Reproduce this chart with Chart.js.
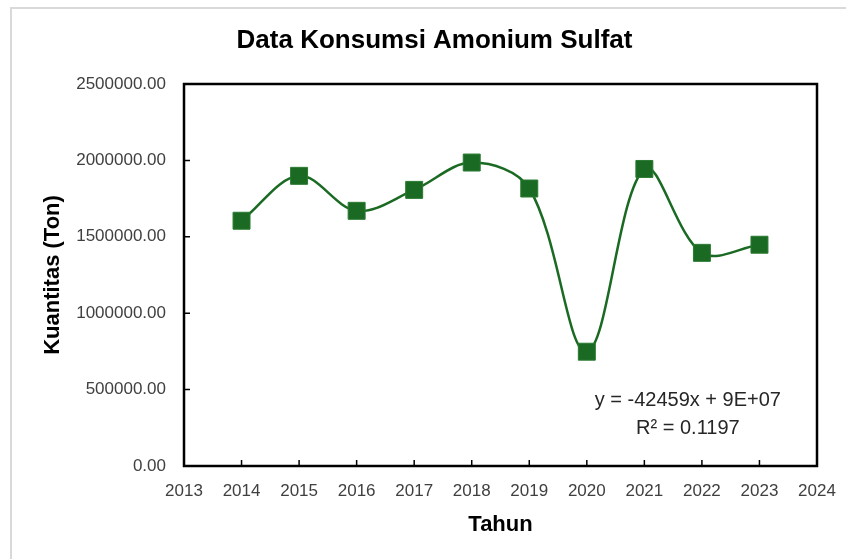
<!DOCTYPE html>
<html>
<head>
<meta charset="utf-8">
<script src="https://cdn.jsdelivr.net/npm/chart.js@4/dist/chart.umd.min.js"></script>
<style>
html, body { margin: 0; padding: 0; background: #ffffff; }
#wrap { width: 846px; height: 559px; position: relative; }
canvas { display: block; }
</style>
</head>
<body>
<div id="wrap"><canvas id="c" width="846" height="559"></canvas></div>
<script>
// ---- data ----
const years = [2014, 2015, 2016, 2017, 2018, 2019, 2020, 2021, 2022, 2023];
const consumption = [1605000, 1899000, 1670000, 1807000, 1986000, 1816000, 748000, 1944000, 1395000, 1448000];
const xTickValues = [2013, 2014, 2015, 2016, 2017, 2018, 2019, 2020, 2021, 2022, 2023, 2024];
const yTickValues = [0, 500000, 1000000, 1500000, 2000000, 2500000];
const chartTitle = 'Data Konsumsi Amonium Sulfat';
const xAxisTitle = 'Tahun';
const yAxisTitle = 'Kuantitas (Ton)';
const trendLines = ['y = -42459x + 9E+07', 'R² = 0.1197'];

const GREEN = '#1b6a23';
const FONT = "'Liberation Sans', Arial, sans-serif";
Chart.defaults.font.family = FONT;

const points = years.map((yr, i) => ({ x: yr, y: consumption[i] }));

const backgroundPlugin = {
  id: 'bgFrame',
  beforeDraw(chart) {
    const ctx = chart.ctx;
    ctx.save();
    ctx.fillStyle = '#ffffff';
    ctx.fillRect(0, 0, chart.width, chart.height);
    ctx.strokeStyle = '#d9d9d9';
    ctx.lineWidth = 2;
    ctx.beginPath();
    ctx.moveTo(11, chart.height);
    ctx.lineTo(11, 8);
    ctx.lineTo(chart.width, 8);
    ctx.stroke();
    // chart title
    ctx.fillStyle = '#000000';
    ctx.font = 'bold 26px ' + FONT;
    ctx.textAlign = 'center';
    ctx.textBaseline = 'middle';
    ctx.fillText(chartTitle, 434.5, 41);
    ctx.restore();
  }
};

const plotFramePlugin = {
  id: 'plotFrame',
  beforeDatasetsDraw(chart) {
    const { ctx, chartArea: a, scales } = chart;
    ctx.save();
    ctx.strokeStyle = '#000000';
    ctx.lineWidth = 1.5;
    ctx.beginPath();
    xTickValues.forEach(v => {
      const px = scales.x.getPixelForValue(v);
      ctx.moveTo(px, a.bottom);
      ctx.lineTo(px, a.bottom - 6);
    });
    yTickValues.forEach(v => {
      const py = scales.y.getPixelForValue(v);
      ctx.moveTo(a.left, py);
      ctx.lineTo(a.left + 6, py);
    });
    ctx.stroke();
    ctx.lineWidth = 2.5;
    ctx.strokeRect(a.left, a.top, a.right - a.left, a.bottom - a.top);
    ctx.restore();
  }
};

const trendLabelPlugin = {
  id: 'trendLabel',
  afterDraw(chart) {
    const { ctx, chartArea: a } = chart;
    const w = a.right - a.left, h = a.bottom - a.top;
    const cx = a.left + w * 0.796;
    ctx.save();
    ctx.fillStyle = '#262626';
    ctx.font = '20px ' + FONT;
    ctx.textAlign = 'center';
    ctx.textBaseline = 'middle';
    ctx.fillText(trendLines[0], cx, a.top + h * 0.829);
    ctx.fillText(trendLines[1], cx, a.top + h * 0.903);
    ctx.restore();
  }
};

new Chart(document.getElementById('c'), {
  type: 'scatter',
  data: {
    datasets: [{
      data: points,
      showLine: true,
      borderColor: GREEN,
      borderWidth: 2.5,
      tension: 0.35,
      pointStyle: 'rect',
      pointRadius: 12,
      pointHoverRadius: 12,
      pointBackgroundColor: GREEN,
      pointBorderColor: '#2a7a31',
      pointBorderWidth: 1
    }]
  },
  options: {
    responsive: false,
    animation: false,
    devicePixelRatio: 1,
    layout: { padding: { left: 0, right: 29, top: 84, bottom: 0 } },
    plugins: {
      legend: { display: false },
      tooltip: { enabled: false },
      title: { display: false }
    },
    scales: {
      x: {
        type: 'linear',
        min: 2013,
        max: 2024,
        afterBuildTicks: s => { s.ticks = xTickValues.map(v => ({ value: v })); },
        afterFit: s => { s.height = 93; s.paddingLeft = 0; s.paddingRight = 0; },
        grid: { display: false, drawTicks: false },
        border: { display: false },
        ticks: {
          callback: v => String(v),
          color: '#404040',
          font: { family: FONT, size: 17 },
          padding: 15,
          maxRotation: 0,
          autoSkip: false
        },
        title: {
          display: true,
          text: xAxisTitle,
          color: '#000000',
          font: { family: FONT, size: 22, weight: 'bold' },
          padding: { top: 0, bottom: 21 }
        }
      },
      y: {
        type: 'linear',
        min: 0,
        max: 2500000,
        afterBuildTicks: s => { s.ticks = yTickValues.map(v => ({ value: v })); },
        afterFit: s => { s.width = 184; s.paddingTop = 0; s.paddingBottom = 0; },
        grid: { display: false, drawTicks: false },
        border: { display: false },
        ticks: {
          callback: v => Number(v).toFixed(2),
          color: '#404040',
          font: { family: FONT, size: 17 },
          padding: 18
        },
        title: {
          display: true,
          text: yAxisTitle,
          color: '#000000',
          font: { family: FONT, size: 22, weight: 'bold' },
          padding: { top: 40, bottom: 0 }
        }
      }
    }
  },
  plugins: [backgroundPlugin, plotFramePlugin, trendLabelPlugin]
});
</script>
</body>
</html>
